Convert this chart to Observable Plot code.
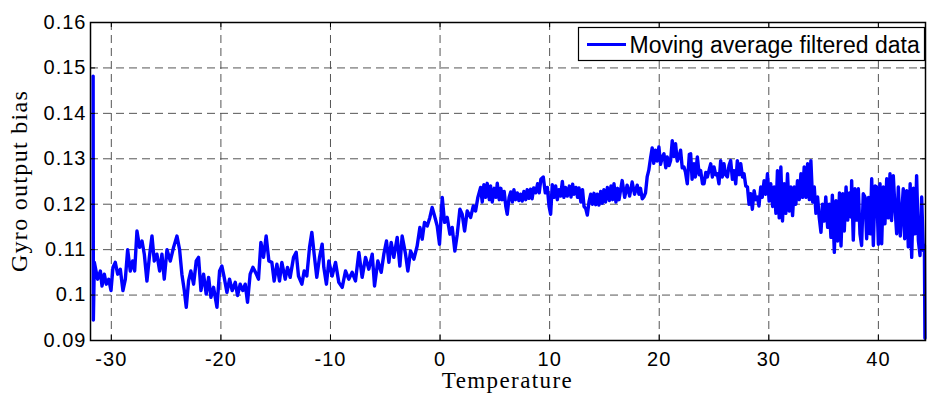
<!DOCTYPE html>
<html>
<head>
<meta charset="utf-8">
<script src="https://cdn.jsdelivr.net/npm/d3@7"></script>
<script src="https://cdn.jsdelivr.net/npm/@observablehq/plot@0.6"></script>
<style>
  html, body { margin: 0; padding: 0; background: #fff; }
  #chart { width: 927px; height: 394px; }
</style>
</head>
<body>
<div id="chart"></div>
<script>
// ---- data: [temperature, gyro output bias] ----
const coldRange = [
  [-31.66,0.1482],[-31.64,0.0945],[-31.55,0.1072],[-31.25,0.1035],[-31.0,0.1053],[-30.85,0.102],[-30.64,0.1046],[-30.46,0.1024],[-30.24,0.1035],[-30.03,0.101],[-29.85,0.1061],[-29.64,0.1072],[-29.42,0.1046],[-29.18,0.1057],[-28.94,0.101],[-28.72,0.1035],[-28.51,0.110],[-28.27,0.1053],[-28.05,0.1075],[-27.87,0.1053],[-27.66,0.1141],[-27.42,0.1105],[-27.2,0.1119],[-26.99,0.109],[-26.75,0.1031],[-26.53,0.1083],[-26.29,0.113],[-26.08,0.1075],[-25.84,0.109],[-25.59,0.1053],[-25.38,0.109],[-25.17,0.1035],[-24.92,0.110],[-24.62,0.1075],[-24.32,0.1105],[-24.01,0.113],[-23.77,0.110],[-23.56,0.1046],[-23.34,0.101],[-23.16,0.0973],[-22.95,0.1031],[-22.74,0.1053],[-22.49,0.1024],[-22.25,0.1075],[-22.04,0.1083],[-21.82,0.101],[-21.58,0.1046],[-21.34,0.1002],[-21.12,0.1039],[-20.91,0.0995],[-20.67,0.1017],[-20.36,0.0973],[-20.12,0.1053],[-19.91,0.1064],[-19.7,0.1039],[-19.45,0.1006],[-19.21,0.1035],[-18.97,0.101],[-18.69,0.1028],[-18.48,0.0999],[-18.24,0.1024],[-18.0,0.101],[-17.78,0.1024],[-17.57,0.0984],[-17.33,0.1046],[-17.08,0.1061],[-16.84,0.105],[-16.57,0.1035],[-16.35,0.1116],[-16.11,0.1083],[-15.87,0.113],[-15.62,0.1075],[-15.35,0.1072],[-15.14,0.1031],[-14.89,0.1068],[-14.65,0.1031],[-14.44,0.1072],[-14.13,0.1035],[-13.92,0.1061],[-13.68,0.1039],[-13.37,0.1083],[-13.13,0.1094],[-12.92,0.1042],[-12.61,0.1024],[-12.4,0.1053],[-12.16,0.1042],[-11.91,0.1105],[-11.7,0.1138],[-11.49,0.109],[-11.25,0.1039],[-11.0,0.1083]
];
const risingRange = [
  [-10.76,0.1112],[-10.61,0.1061],[-10.37,0.1024],[-10.15,0.1075],[-9.85,0.1042],[-9.54,0.1072],[-9.24,0.1028],[-8.93,0.1017],[-8.63,0.1053],[-8.33,0.1035],[-8.02,0.105],[-7.72,0.1031],[-7.41,0.1094],[-7.11,0.1039],[-6.8,0.1083],[-6.5,0.1057],[-6.19,0.109],[-5.98,0.102],[-5.68,0.1075],[-5.37,0.105],[-5.13,0.109],[-4.89,0.1119],[-4.67,0.1072],[-4.46,0.1116],[-4.22,0.1083],[-3.91,0.1127],[-3.67,0.1064],[-3.46,0.113],[-3.15,0.109],[-2.94,0.1053],[-2.69,0.1097],[-2.39,0.1079],[-2.09,0.1108],[-1.84,0.1149],[-1.63,0.1123],[-1.42,0.116],[-1.17,0.1152],[-0.93,0.1171],[-0.72,0.1193],[-0.5,0.1174],[-0.26,0.1152],[-0.05,0.1112],[0.2,0.1215],[0.41,0.116],[0.65,0.1171],[0.9,0.1134],[1.11,0.1149],[1.35,0.1097],[1.57,0.1134],[1.81,0.1189],[2.02,0.1178],[2.24,0.1141],[2.48,0.1185],[2.79,0.1171],[3.03,0.1196],[3.24,0.1185],[3.45,0.1215],[3.7,0.1237]
];
const plateauRange = [
  [3.85,0.1205],[4.0,0.1243],[4.16,0.1215],[4.3,0.1246],[4.5,0.121],[4.61,0.124],[4.76,0.1205],[4.95,0.1235],[5.1,0.1215],[5.22,0.1246],[5.4,0.121],[5.55,0.1235],[5.68,0.121],[5.85,0.1228],[6.0,0.1195],[6.13,0.1178],[6.3,0.1215],[6.45,0.1227],[6.6,0.1205],[6.74,0.1232],[6.9,0.121],[7.05,0.1225],[7.2,0.1208],[7.35,0.1222],[7.5,0.1207],[7.65,0.1228],[7.81,0.121],[7.95,0.1232],[8.1,0.1213],[8.26,0.1233],[8.4,0.1212],[8.55,0.1236],[8.72,0.1225],[8.9,0.1245],[9.05,0.1225],[9.2,0.1255],[9.42,0.126],[9.6,0.1225],[9.79,0.1237],[9.95,0.1195],[10.09,0.1178],[10.24,0.1243],[10.4,0.1215],[10.55,0.124],[10.7,0.121],[10.85,0.1232],[11.0,0.1218],[11.16,0.125],[11.3,0.1215],[11.45,0.1237],[11.61,0.1218],[11.8,0.124],[11.95,0.1216],[12.1,0.1244],[12.22,0.1222],[12.4,0.1237],[12.55,0.1215],[12.68,0.1236],[12.85,0.1205],[13.0,0.1232],[13.14,0.1195],[13.3,0.119],[13.44,0.1176],[13.59,0.1205],[13.75,0.1222],[13.9,0.12],[14.05,0.1224],[14.2,0.1199],[14.35,0.1222],[14.5,0.1198],[14.66,0.1228],[14.8,0.1202],[14.95,0.1232],[15.1,0.1205],[15.27,0.1237],[15.45,0.1208],[15.6,0.124],[15.75,0.121],[15.87,0.1245],[16.05,0.1205],[16.2,0.1235],[16.33,0.121]
];
const peakRange = [
  [16.62,0.1252],[16.85,0.1215],[17.07,0.1242],[17.3,0.1218],[17.53,0.1249],[17.75,0.1222],[17.99,0.1242],[18.15,0.1222],[18.29,0.1235],[18.45,0.1212],[18.6,0.1216],[18.75,0.1225],[18.9,0.126],[19.05,0.1275],[19.21,0.1302],[19.36,0.1324],[19.5,0.129],[19.66,0.1319],[19.8,0.1295],[19.97,0.1326],[20.12,0.1288],[20.3,0.1305],[20.43,0.1311],[20.6,0.128],[20.73,0.1304],[20.9,0.1285],[21.04,0.1296],[21.19,0.134],[21.35,0.1305],[21.49,0.1333],[21.65,0.1295],[21.8,0.1304],[21.95,0.1319],[22.1,0.128],[22.26,0.1282],[22.4,0.127],[22.56,0.1245],[22.75,0.131],[22.87,0.1311],[23.0,0.1255],[23.17,0.1289],[23.3,0.126],[23.48,0.1304],[23.65,0.1265],[23.78,0.1274],[23.95,0.1245],[24.09,0.1245],[24.25,0.127],[24.39,0.126],[24.55,0.1275],[24.7,0.1289],[24.85,0.126],[25.0,0.1282],[25.15,0.1265],[25.3,0.1267],[25.45,0.1245],[25.61,0.1296],[25.75,0.126],[25.91,0.1289],[26.05,0.1265],[26.22,0.126],[26.37,0.1285],[26.52,0.1296],[26.68,0.1255],[26.83,0.1274],[26.98,0.1245],[27.13,0.1296],[27.3,0.1265],[27.44,0.1289],[27.6,0.126],[27.74,0.1267],[27.9,0.124],[28.05,0.1238],[28.2,0.12],[28.35,0.1223],[28.5,0.1189],[28.66,0.123],[28.8,0.121],[28.96,0.1216],[29.1,0.1196],[29.27,0.1238],[29.4,0.1215],[29.57,0.1252],[29.72,0.1222],[29.88,0.1267],[30.03,0.1207],[30.18,0.1245],[30.35,0.1195],[30.49,0.1238],[30.65,0.118],[30.79,0.1274],[30.95,0.117],[31.1,0.1282],[31.25,0.1163],[31.4,0.1245],[31.55,0.118],[31.71,0.1267],[31.86,0.1185],[32.01,0.1238],[32.17,0.1175],[32.32,0.1238],[32.47,0.12],[32.62,0.1252],[32.78,0.121],[32.93,0.1267],[33.08,0.1215],[33.23,0.1282],[33.39,0.1215],[33.54,0.1289],[33.7,0.121],[33.84,0.1296],[34.0,0.1205],[34.15,0.1238],[34.3,0.118],[34.45,0.1216],[34.6,0.1171],[34.76,0.1138],[34.9,0.12],[35.06,0.1163],[35.2,0.1216],[35.37,0.1149],[35.52,0.12],[35.67,0.1127],[35.8,0.122],[35.98,0.1094],[36.13,0.1208],[36.28,0.1119],[36.45,0.1225],[36.59,0.1108],[36.75,0.1223],[36.89,0.1141]
];
const hotRange = [
  [37.05,0.1238],[37.2,0.1165],[37.35,0.1225],[37.5,0.1172],[37.56,0.1252],[37.71,0.1121],[37.86,0.1234],[38.02,0.1165],[38.17,0.1234],[38.32,0.1135],[38.47,0.1109],[38.62,0.1223],[38.78,0.1216],[38.93,0.1124],[39.1,0.1215],[39.25,0.1135],[39.39,0.1256],[39.54,0.1109],[39.7,0.124],[39.84,0.1238],[40.0,0.1112],[40.15,0.1245],[40.3,0.1113],[40.45,0.1238],[40.6,0.1157],[40.76,0.1256],[40.9,0.117],[41.06,0.1267],[41.2,0.1164],[41.36,0.1263],[41.52,0.119],[41.67,0.1135],[41.82,0.1238],[42.0,0.113],[42.27,0.1234],[42.4,0.1124],[42.58,0.123],[42.73,0.1106],[42.9,0.1245],[43.04,0.1083],[43.2,0.1235],[43.35,0.1135],[43.49,0.1263],[43.65,0.112],[43.8,0.1087],[43.95,0.1216],[44.1,0.1098],[44.2,0.111],[44.25,0.0905]
];
const xTicks = [-30, -20, -10, 0, 10, 20, 30, 40];
const yTicks = [0.09, 0.1, 0.11, 0.12, 0.13, 0.14, 0.15, 0.16];
const seriesName = "Moving average filtered data";
const xTitle = "Temperature";
const yTitle = "Gyro output bias";

// ---- build table ----
const readings = [...coldRange, ...risingRange, ...plateauRange, ...peakRange, ...hotRange]
  .map(([t, b]) => ({t, b}));

const W = 927, H = 394;
const mL = 90, mR = 2, mT = 22, mB = 54;
const innerW = W - mL - mR, innerH = H - mT - mB;
const sans = "'Liberation Sans', Arial, Helvetica, sans-serif";
const serif = "'Liberation Serif', 'Times New Roman', serif";
const gridStyle = {stroke: "#555", strokeOpacity: 1, strokeWidth: 1, strokeDasharray: "8,5"};

const chart = Plot.plot({
  width: W, height: H,
  marginLeft: mL, marginRight: mR, marginTop: mT, marginBottom: mB,
  x: {domain: [-31.9, 44.3]},
  y: {domain: [0.09, 0.16]},
  style: {background: "#fff", fontFamily: sans, fontSize: "20px", color: "#000", overflow: "visible"},
  marks: [
    Plot.gridX(xTicks, gridStyle),
    Plot.gridY(yTicks, gridStyle),
    Plot.line(readings, {x: "t", y: "b", stroke: "#0000ff", strokeWidth: 3.4, strokeLinejoin: "round"}),
    Plot.tickX(xTicks, {x: d => d, insetTop: innerH - 5, stroke: "#000"}),
    Plot.tickX(xTicks, {x: d => d, insetBottom: innerH - 5, stroke: "#000"}),
    Plot.tickY(yTicks, {y: d => d, insetRight: innerW - 5, stroke: "#000"}),
    Plot.tickY(yTicks, {y: d => d, insetLeft: innerW - 5, stroke: "#000"}),
    Plot.frame({stroke: "#000", strokeWidth: 1.5}),
    Plot.axisX(xTicks, {tickSize: 0, tickPadding: 11, label: null, fontSize: 20, fontFamily: sans,
      tickFormat: d => String(d)}),
    Plot.axisY(yTicks, {tickSize: 0, tickPadding: 4, label: null, fontSize: 20, fontFamily: sans,
      tickFormat: d => String(+d.toFixed(2))})
  ]
});

const svg = d3.select(chart);
svg.selectAll("g[aria-label='x-axis tick label'] text, g[aria-label='y-axis tick label'] text")
  .attr("letter-spacing", "1px");
svg.selectAll("g[aria-label='x-axis tick label'], g[aria-label='y-axis tick label']")
  .attr("fill", "#000");

// axis titles
svg.append("text")
  .attr("x", mL + innerW / 2).attr("y", 388)
  .attr("text-anchor", "middle")
  .attr("font-family", serif).attr("font-size", 23).attr("letter-spacing", "1.4px")
  .attr("fill", "#000")
  .text(xTitle);
svg.append("text")
  .attr("transform", `translate(27,${mT + innerH / 2}) rotate(-90)`)
  .attr("text-anchor", "middle")
  .attr("font-family", serif).attr("font-size", 24).attr("letter-spacing", "1.3px")
  .attr("fill", "#000")
  .text(yTitle);

// legend
const lg = svg.append("g");
lg.append("rect")
  .attr("x", 578.5).attr("y", 27.5).attr("width", 346).attr("height", 33)
  .attr("fill", "#fff").attr("stroke", "#000").attr("stroke-width", 1.2);
lg.append("line")
  .attr("x1", 587).attr("x2", 626).attr("y1", 44.5).attr("y2", 44.5)
  .attr("stroke", "#0000ff").attr("stroke-width", 3);
lg.append("text")
  .attr("x", 629.5).attr("y", 53)
  .attr("text-anchor", "start")
  .attr("font-family", sans).attr("font-size", 23).attr("fill", "#000")
  .text(seriesName);

document.getElementById("chart").appendChild(chart);
</script>
</body>
</html>
